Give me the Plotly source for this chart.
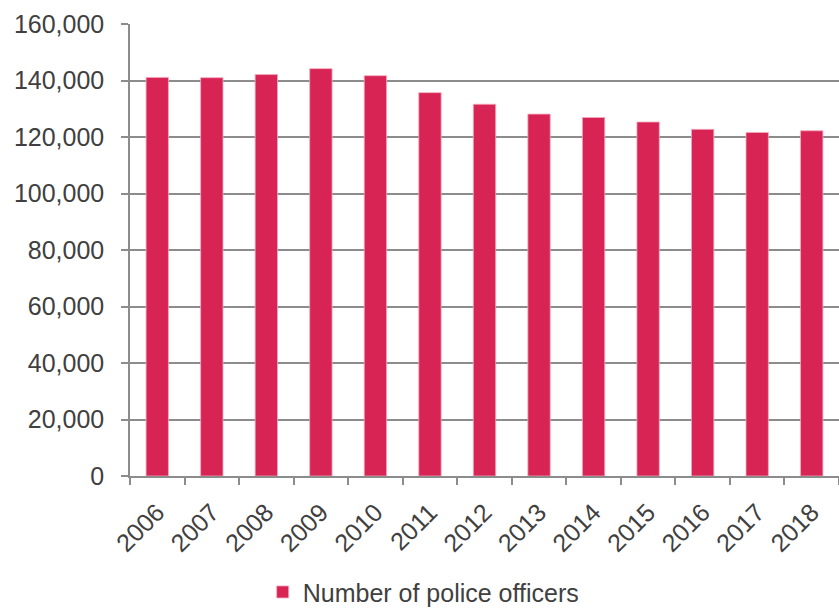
import plotly.graph_objects as go

# Police officer headcount by year
years = ["2006", "2007", "2008", "2009", "2010", "2011", "2012",
         "2013", "2014", "2015", "2016", "2017", "2018"]
officers = [141100, 141000, 142100, 144200, 141700, 135700, 131600,
            128100, 126900, 125300, 122700, 121600, 122200]
series_name = "Number of police officers"

y_ticks = [0, 20000, 40000, 60000, 80000, 100000, 120000, 140000, 160000]

BAR_COLOR = "#D82454"
GRID_COLOR = "#8C8C8C"
TEXT_COLOR = "#404040"
FONT = "Liberation Sans, Arial, sans-serif"
FONT_SIZE = 25

fig = go.Figure()

fig.add_trace(
    go.Bar(
        x=years,
        y=officers,
        name=series_name,
        marker=dict(color=BAR_COLOR, line=dict(color="#F2A9BE", width=0.8)),
        showlegend=True,
    )
)

fig.update_layout(
    width=839,
    height=608,
    paper_bgcolor="white",
    plot_bgcolor="white",
    font=dict(family=FONT, size=FONT_SIZE, color=TEXT_COLOR),
    margin=dict(l=130, r=0, t=24, b=132),
    bargap=0.59,
    showlegend=True,
    legend=dict(
        orientation="h",
        xref="container",
        yref="container",
        x=0.505,
        y=0.026,
        xanchor="center",
        yanchor="middle",
        font=dict(size=FONT_SIZE, color=TEXT_COLOR),
        itemwidth=30,
    ),
)

fig.update_xaxes(
    type="category",
    tickangle=-45,
    ticks="outside",
    tickson="boundaries",
    ticklen=7,
    tickwidth=1.5,
    tickcolor=GRID_COLOR,
    showline=True,
    linecolor=GRID_COLOR,
    linewidth=1.5,
    showgrid=False,
    ticklabelstandoff=10,
    tickfont=dict(size=FONT_SIZE, color=TEXT_COLOR),
)

fig.update_yaxes(
    range=[0, 160000],
    tickvals=y_ticks,
    tickformat=",",
    ticks="outside",
    ticklen=7,
    tickwidth=1.5,
    tickcolor=GRID_COLOR,
    showline=True,
    linecolor=GRID_COLOR,
    linewidth=1.5,
    showgrid=True,
    gridcolor=GRID_COLOR,
    gridwidth=1.5,
    zeroline=False,
    ticklabelstandoff=12,
    tickfont=dict(size=FONT_SIZE, color=TEXT_COLOR),
)

# drop the browser's default 8px body margin so the figure fills the window
fig.write_html(
    "out.html",
    config={"displayModeBar": False},
    post_script="document.body.style.margin = '0';",
)
